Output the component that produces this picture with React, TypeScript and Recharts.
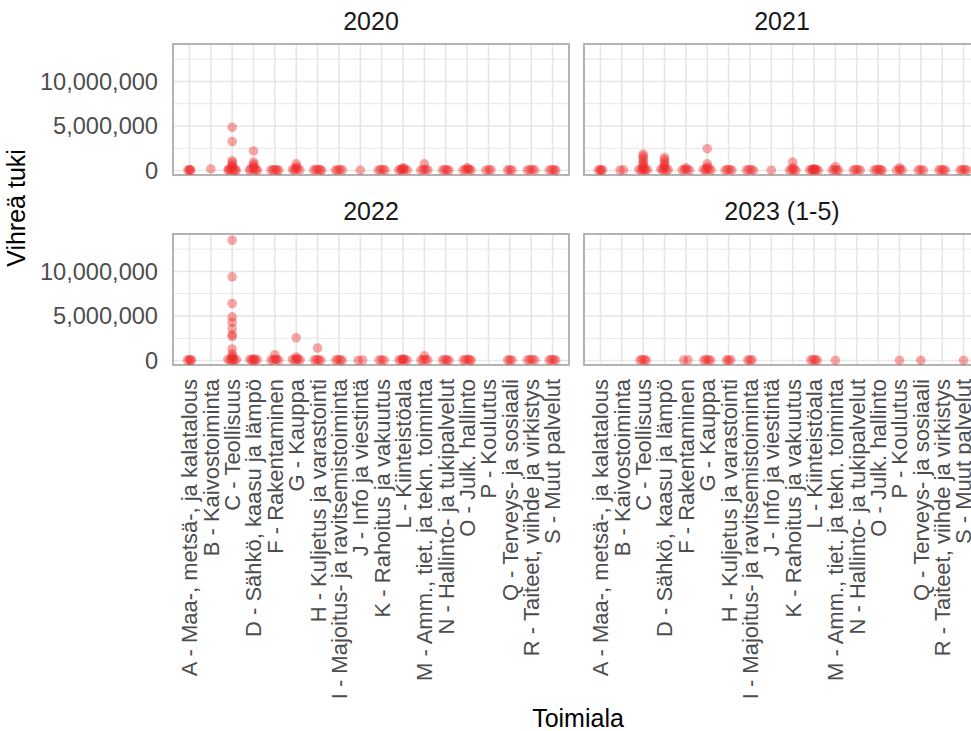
import React from "react";
import { ScatterChart, Scatter, XAxis, YAxis, CartesianGrid, ReferenceArea } from "recharts";

const FONT = '"Liberation Sans", Arial, Helvetica, sans-serif';

const categories = [
  "A - Maa-, metsä-, ja kalatalous",
  "B - Kaivostoiminta",
  "C - Teollisuus",
  "D - Sähkö, kaasu ja lämpö",
  "F - Rakentaminen",
  "G - Kauppa",
  "H - Kuljetus ja varastointi",
  "I - Majoitus- ja ravitsemistoiminta",
  "J - Info ja viestintä",
  "K - Rahoitus ja vakuutus",
  "L - Kiinteistöala",
  "M - Amm., tiet. ja tekn. toiminta",
  "N - Hallinto- ja tukipalvelut",
  "O - Julk. hallinto",
  "P - Koulutus",
  "Q - Terveys- ja sosiaali",
  "R - Taiteet, viihde ja virkistys",
  "S - Muut palvelut",
];

const facetTitles = ["2020", "2021", "2022", "2023 (1-5)"];
const yTicks = [0, 5000000, 10000000];
const yMinorTicks = [2500000, 7500000, 12500000];
const yDomain: [number, number] = [-500000, 14200000];
const xDomain: [number, number] = [-0.77, 17.77];
const xTickIdx = categories.map((_, i) => i);

// [value in euros, horizontal jitter in category units]
type Pt = [number, number];

const facet2020: Record<string, Pt[]> = {
  A: [[3e4, -0.07], [8e4, 0], [2e4, 0.07], [1e5, 0.02]],
  B: [[1.8e5, 0]],
  C: [[4.85e6, 0], [3.25e6, 0], [1.1e6, 0], [8.5e5, 0.01], [6e5, -0.01], [4e5, 0.03], [2.5e5, -0.05], [1.5e5, -0.16], [1e5, 0.14], [6e4, -0.08], [3e4, 0.08], [2e4, 0.19], [4e4, -0.19]],
  D: [[2.2e6, 0], [9.5e5, 0], [7e5, 0.02], [4.5e5, -0.02], [3e5, 0.04], [1.8e5, -0.12], [1e5, 0.12], [5e4, -0.19], [3e4, 0.18], [8e4, 0]],
  F: [[5e4, -0.18], [9e4, -0.08], [1.2e5, 0.02], [6e4, 0.1], [2e4, 0.18]],
  G: [[7.5e5, 0], [4e5, 0.02], [2.5e5, -0.03], [1.2e5, -0.17], [8e4, 0.17], [1.5e5, 0.06], [4e4, -0.08]],
  H: [[5e4, -0.18], [1e5, -0.07], [1.3e5, 0.03], [7e4, 0.12], [3e4, 0.19]],
  I: [[4e4, -0.16], [9e4, -0.06], [1.1e5, 0.05], [5e4, 0.16]],
  J: [[5e4, 0]],
  K: [[4e4, -0.16], [1e5, -0.05], [1.2e5, 0.06], [5e4, 0.16]],
  L: [[3e5, 0], [1.5e5, -0.1], [2e5, 0.08], [6e4, -0.2], [4e4, 0.2], [1e5, 0.02], [8e4, -0.06]],
  M: [[7.5e5, 0], [4e4, -0.16], [1e5, -0.05], [1.2e5, 0.06], [6e4, 0.16]],
  N: [[5e4, -0.15], [1.1e5, -0.04], [8e4, 0.06], [3e4, 0.15]],
  O: [[3e5, 0], [1.5e5, 0.05], [4e4, -0.19], [1e5, -0.08], [1.2e5, 0.1], [5e4, 0.19]],
  P: [[4e4, -0.12], [1e5, 0.02], [6e4, 0.12]],
  Q: [[5e4, -0.1], [9e4, 0], [4e4, 0.1]],
  R: [[4e4, -0.18], [1e5, -0.06], [1.2e5, 0.05], [5e4, 0.17]],
  S: [[5e4, -0.15], [1e5, -0.03], [8e4, 0.08], [3e4, 0.15]],
};

const facet2021: Record<string, Pt[]> = {
  A: [[5e4, -0.1], [1e5, 0], [6e4, 0.1], [2e4, 0.03]],
  B: [[5e4, -0.08], [8e4, 0.08]],
  C: [[1.85e6, 0], [1.6e6, 0], [1.35e6, 0], [1.05e6, 0.01], [8e5, -0.01], [5.5e5, 0.02], [3.5e5, -0.03], [2e5, 0.05], [1.2e5, -0.2], [1e5, 0.2], [6e4, -0.1], [4e4, 0.1], [8e4, 0]],
  D: [[1.45e6, 0], [1.2e6, 0], [9e5, 0.01], [6.5e5, -0.01], [4e5, 0.02], [2.5e5, -0.04], [1.5e5, -0.17], [1e5, 0.17], [5e4, -0.08], [3e4, 0.08]],
  F: [[3e5, 0], [5e4, -0.17], [1e5, -0.06], [1.2e5, 0.06], [4e4, 0.17]],
  G: [[2.45e6, 0], [7.5e5, 0], [4e5, 0.02], [2.2e5, -0.03], [1.2e5, -0.18], [8e4, 0.18], [5e4, -0.08], [1e5, 0.08]],
  H: [[5e4, -0.16], [1e5, -0.05], [1.2e5, 0.06], [4e4, 0.15]],
  I: [[5e4, -0.16], [1e5, -0.05], [1.1e5, 0.06], [4e4, 0.16]],
  J: [[4e4, 0]],
  K: [[9.5e5, 0], [3e5, 0.02], [5e4, -0.15], [1e5, -0.04], [7e4, 0.06], [3e4, 0.15]],
  L: [[2e5, 0.02], [1.5e5, -0.1], [6e4, -0.2], [1.2e5, 0.1], [4e4, 0.2], [1e5, -0.02], [8e4, 0.05], [5e4, -0.07]],
  M: [[4.5e5, 0], [5e4, -0.15], [1e5, -0.04], [8e4, 0.06], [3e4, 0.15]],
  N: [[5e4, -0.16], [1e5, -0.05], [1.2e5, 0.06], [4e4, 0.16]],
  O: [[5e4, -0.18], [1e5, -0.07], [1.4e5, 0.03], [7e4, 0.12], [3e4, 0.19]],
  P: [[3e5, 0], [4e4, -0.13], [8e4, 0.02], [5e4, 0.13]],
  Q: [[5e4, -0.12], [1e5, 0], [4e4, 0.12]],
  R: [[5e4, -0.15], [1e5, -0.04], [8e4, 0.06], [3e4, 0.15]],
  S: [[5e4, -0.16], [1e5, -0.05], [1.2e5, 0.06], [4e4, 0.16]],
};

const facet2022: Record<string, Pt[]> = {
  A: [[5e4, -0.1], [1e5, 0], [6e4, 0.1], [2e4, 0.04]],
  C: [[1.35e7, 0], [9.4e6, 0], [6.4e6, 0], [4.9e6, 0], [4.3e6, 0], [3.6e6, 0], [2.9e6, 0], [2.7e6, 0], [1.3e6, 0], [7.5e5, 0], [5e5, 0.02], [3e5, -0.03], [2e5, 0.05], [1.2e5, -0.2], [1e5, 0.2], [6e4, -0.1], [4e4, 0.1], [8e4, 0]],
  D: [[2e5, 0], [1.2e5, -0.17], [1e5, 0.17], [5e4, -0.08], [8e4, 0.08], [3e4, 0]],
  F: [[6.5e5, 0], [1.5e5, 0.03], [5e4, -0.18], [1e5, -0.07], [1.2e5, 0.08], [4e4, 0.18]],
  G: [[2.55e6, 0], [4e5, 0], [2e5, 0.02], [1.2e5, -0.18], [8e4, 0.18], [5e4, -0.07], [1e5, 0.08]],
  H: [[1.4e6, 0], [5e4, -0.15], [1e5, -0.04], [8e4, 0.06], [3e4, 0.15]],
  I: [[5e4, -0.15], [1e5, -0.04], [8e4, 0.06], [3e4, 0.15]],
  J: [[4e4, -0.1], [6e4, 0.1]],
  K: [[5e4, -0.12], [8e4, 0], [4e4, 0.12]],
  L: [[1.8e5, 0], [5e4, -0.19], [1e5, -0.08], [1.3e5, 0.08], [4e4, 0.19], [8e4, 0]],
  M: [[5.3e5, 0], [5e4, -0.16], [1e5, -0.05], [1.2e5, 0.06], [4e4, 0.16]],
  N: [[5e4, -0.15], [1e5, -0.04], [8e4, 0.06], [3e4, 0.15]],
  O: [[5e4, -0.18], [1e5, -0.07], [1.3e5, 0.04], [7e4, 0.12], [3e4, 0.19]],
  Q: [[5e4, -0.1], [9e4, 0], [4e4, 0.1]],
  R: [[5e4, -0.18], [1e5, -0.06], [1.2e5, 0.05], [5e4, 0.17]],
  S: [[5e4, -0.16], [1e5, -0.05], [1.1e5, 0.06], [4e4, 0.15]],
};

const facet2023: Record<string, Pt[]> = {
  C: [[5e4, -0.15], [1e5, -0.04], [8e4, 0.06], [3e4, 0.15]],
  F: [[5e4, -0.1], [8e4, 0.1]],
  G: [[5e4, -0.16], [1e5, -0.05], [8e4, 0.06], [3e4, 0.16]],
  H: [[5e4, -0.1], [6e4, 0], [8e4, 0.1]],
  I: [[5e4, -0.1], [6e4, 0], [8e4, 0.1]],
  L: [[5e4, -0.15], [1e5, -0.04], [8e4, 0.06], [3e4, 0.15]],
  M: [[3e4, 0]],
  P: [[3e4, 0]],
  Q: [[3e4, 0]],
  S: [[3e4, 0]],
};

function toPoints(rec: Record<string, Pt[]>) {
  const out: { x: number; y: number }[] = [];
  categories.forEach((c, i) => {
    const key = c.charAt(0);
    (rec[key] || []).forEach(([v, dx]) => out.push({ x: i + dx, y: v }));
  });
  return out;
}

const PLOT_W = 396;
const PLOT_H = 131;
const GRID = "#E6E6E6";

const Dot = (p: any) => (
  <circle cx={p.cx} cy={p.cy} r={4.8} fill="#EE2C2C" fillOpacity={0.42} />
);

const XTick = (p: any) => (
  <g transform={`translate(${p.x},${p.y + 14})`}>
    <text
      transform="rotate(-90)"
      textAnchor="end"
      dy="0.36em"
      fontSize={22}
      fontFamily={FONT}
      fill="#4D4D4D"
    >
      {categories[p.payload.value]}
    </text>
  </g>
);

const YTick = (p: any) => (
  <text
    x={p.x}
    y={p.y}
    dy="0.36em"
    textAnchor="end"
    fontSize={23.6}
    fontFamily={FONT}
    fill="#4D4D4D"
  >
    {Number(p.payload.value).toLocaleString("en-US")}
  </text>
);

function Panel({ rec, left, top, showX, showY }: { rec: Record<string, Pt[]>; left: number; top: number; showX: boolean; showY: boolean }) {
  const mLeft = showY ? 0 : 10;
  const yW = showY ? 173 : 0;
  const xH = showX ? 340 : 0;
  const width = mLeft + yW + PLOT_W + 10;
  const height = 10 + PLOT_H + (showX ? xH : 10);
  const data = toPoints(rec);
  return (
    <div style={{ position: "absolute", left: showY ? left - 173 : left - 10, top: top - 10 }}>
      <ScatterChart
        width={width}
        height={height}
        margin={{ top: 10, right: 10, bottom: showX ? 0 : 10, left: mLeft }}
      >
        <CartesianGrid horizontalValues={yMinorTicks} vertical={false} stroke={GRID} strokeWidth={1} />
        <CartesianGrid horizontalValues={yTicks} verticalValues={xTickIdx} stroke={GRID} strokeWidth={1.6} />
        <XAxis
          type="number"
          dataKey="x"
          domain={xDomain}
          ticks={xTickIdx}
          interval={0}
          hide={!showX}
          height={xH}
          tick={XTick}
          tickLine={false}
          axisLine={false}
          tickSize={0}
          tickMargin={0}
          allowDataOverflow
        />
        <YAxis
          type="number"
          dataKey="y"
          domain={yDomain}
          ticks={yTicks}
          hide={!showY}
          width={yW}
          tick={YTick}
          tickLine={false}
          axisLine={false}
          tickSize={0}
          tickMargin={15}
          allowDataOverflow
        />
        <Scatter data={data} isAnimationActive={false} shape={Dot} />
        <ReferenceArea
          x1={xDomain[0]}
          x2={xDomain[1]}
          y1={yDomain[0]}
          y2={yDomain[1]}
          fill="none"
          stroke="#B3B3B3"
          strokeWidth={2}
          ifOverflow="visible"
        />
      </ScatterChart>
    </div>
  );
}

export default function App() {
  const panels = [
    { rec: facet2020, left: 173, top: 44, showX: false, showY: true },
    { rec: facet2021, left: 584, top: 44, showX: false, showY: false },
    { rec: facet2022, left: 173, top: 234, showX: true, showY: true },
    { rec: facet2023, left: 584, top: 234, showX: true, showY: false },
  ];
  return (
    <div style={{ position: "absolute", left: 0, top: 0, width: 971, height: 731, overflow: "hidden", background: "#fff" }}>
      {panels.map((p, i) => (
        <Panel key={i} {...p} />
      ))}
      <svg width={971} height={731} style={{ position: "absolute", left: 0, top: 0, pointerEvents: "none" }}>
        {panels.map((p, i) => (
          <text
            key={i}
            x={p.left + PLOT_W / 2}
            y={p.top - 14}
            textAnchor="middle"
            fontSize={25}
            fontFamily={FONT}
            fill="#1A1A1A"
          >
            {facetTitles[i]}
          </text>
        ))}
        <text x={578} y={727} textAnchor="middle" fontSize={25} fontFamily={FONT} fill="#000">
          Toimiala
        </text>
        <text
          transform="translate(25,208) rotate(-90)"
          textAnchor="middle"
          fontSize={25}
          fontFamily={FONT}
          fill="#000"
        >
          Vihreä tuki
        </text>
      </svg>
    </div>
  );
}
